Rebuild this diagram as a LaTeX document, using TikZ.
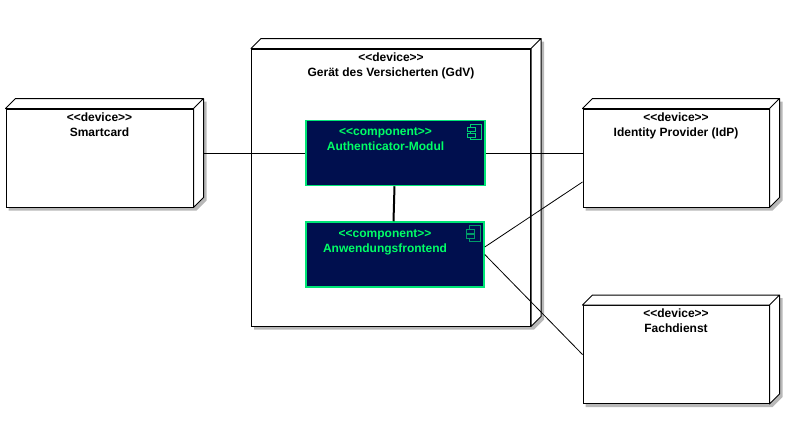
\documentclass[tikz,border=0pt]{standalone}
\usepackage{fontspec}
\setmainfont{Liberation Sans}
\usetikzlibrary{calc,backgrounds}
\definecolor{marine}{HTML}{000F4E}
\definecolor{vert}{HTML}{00E676}
\definecolor{texte}{HTML}{00FF66}
\definecolor{ombre}{HTML}{B8B8B8}
\newcommand{\devicebody}[1]{
  \draw[fill=white,line width=1pt,line join=round] (#1.north west) -- ++(10pt,10pt) -- ($(#1.north east)+(10pt,10pt)$) -- ($(#1.south east)+(10pt,10pt)$) -- (#1.south east) -- (#1.north east) -- cycle (#1.north east) -- ++(10pt,10pt);
  \begin{scope}[on background layer]
    \fill[ombre] ($(#1.north west)+(13pt,7pt)$) -- ($(#1.north east)+(13pt,7pt)$) -- ($(#1.south east)+(13pt,7pt)$) -- ($(#1.south east)+(3pt,-3pt)$) -- ($(#1.south west)+(3pt,-3pt)$) -- cycle;
  \end{scope}
}
\begin{document}
\begin{tikzpicture}[x=1pt,y=-1pt,
  device/.style={draw,fill=white,line width=1pt,inner sep=0pt},
  comp/.style={draw=vert,fill=marine,line width=1.5pt,inner sep=0pt},
  devlabel/.style={anchor=north,align=center,inner sep=0pt,font=\fontsize{12}{15}\selectfont\bfseries,yshift=-4pt},
  complabel/.style={devlabel,text=texte,yshift=-4pt}]
  \useasboundingbox (0,0) rectangle (792,424);
  % devices
  \foreach \n/\x/\y/\w/\h/\t in {
      gdv/391/187.5/279/277/{Gerät des Versicherten (GdV)},
      smartcard/99.5/158/187/98/{Smartcard},
      idp/676/158/186/98/{Identity Provider (IdP)},
      fach/676/354.5/186/98/{Fachdienst}}{
    \node[device,minimum width=\w pt,minimum height=\h pt,label={[devlabel]north:{<{}<device>{}>\\\t}}] (\n) at (\x,\y) {};
    \devicebody{\n}
  }
  % components
  \foreach \n/\x/\y/\w/\t/\c in {
      auth/395.5/153/179/{Authenticator-Modul}/90,
      anw/395/254.5/178/{Anwendungsfrontend}/65}{
    \node[comp,minimum width=\w pt,minimum height=65pt,label={[complabel,xshift=-10pt]north:{<{}<component>{}>\\\t}}] (\n) at (\x,\y) {};
    \draw[vert!\c!marine,line width=1pt] ($(\n.north east)+(-15pt,-4.5pt)$) rectangle ($(\n.north east)+(-4.5pt,-20pt)$);
    \draw[vert!\c!marine,fill=marine,line width=1pt] ($(\n.north east)+(-18.5pt,-8pt)$) rectangle ($(\n.north east)+(-10.5pt,-12pt)$);
    \draw[vert!\c!marine,fill=marine,line width=1pt] ($(\n.north east)+(-18.5pt,-13.5pt)$) rectangle ($(\n.north east)+(-10.5pt,-17.5pt)$);
  }
  % connectors
  \draw[line width=1pt] ([xshift=10pt]auth -| smartcard.east) -- (auth.west);
  \draw[line width=1pt] (auth.east) -- (auth -| idp.west);
  \draw[line width=2pt] ([xshift=-1pt]auth.south) -- ([xshift=-1.5pt]anw.north);
  \draw[line width=0.8pt] ([yshift=7.5pt]anw.east) -- ([yshift=-24pt]idp.west);
  \draw[line width=0.8pt] (anw.east) -- (fach.west);
\end{tikzpicture}
\end{document}
